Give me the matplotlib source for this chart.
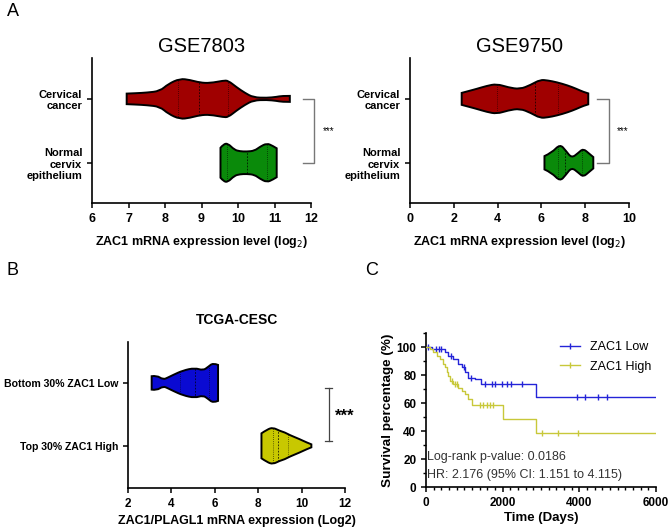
import numpy as np
import matplotlib
matplotlib.use('Agg')
import matplotlib.pyplot as plt
from matplotlib.path import Path
from matplotlib.patches import PathPatch
from matplotlib.lines import Line2D
from matplotlib.ticker import MultipleLocator

plt.rcParams['font.family'] = ['Liberation Sans', 'DejaVu Sans']

# ---- violin outlines: x value, half width (category units)
# GSE7803
gse7803_cancer_x = [6.95, 7.22, 7.5, 7.86, 8.09, 8.41, 8.68, 8.96, 9.23, 9.6, 9.73, 9.96, 10.19, 10.42, 10.79, 11.06, 11.2, 11.42]
gse7803_cancer_h = [5.3, 5.7, 6.3, 7.8, 15, 20.3, 19, 16.3, 15.8, 18.3, 18.3, 11.7, 6, 1.5, 1.0, 2.0, 3.0, 3.0]
gse7803_cancer_q = [8.35, 8.94, 9.72]
gse7803_normal_x = [9.52, 9.6, 9.72, 9.9, 10.05, 10.24, 10.45, 10.6, 10.79, 10.95, 11.06]
gse7803_normal_h = [15, 18.5, 19.5, 13, 11.5, 11.2, 12, 16, 19.5, 17, 14.5]
gse7803_normal_q = [9.71, 10.24, 10.79]
# GSE9750
gse9750_cancer_x = [2.36, 2.7, 3.04, 3.5, 3.96, 4.49, 5.02, 5.51, 5.94, 6.29, 6.7, 7.2, 7.61, 7.91, 8.14]
gse9750_cancer_h = [6, 8, 10, 13, 15, 11.5, 9.7, 14, 19.2, 18.5, 16.7, 13.5, 10, 7, 5.5]
gse9750_cancer_q = [3.96, 5.71, 6.77]
gse9750_normal_x = [6.14, 6.47, 6.85, 7.12, 7.38, 7.69, 7.91, 8.19, 8.37]
gse9750_normal_h = [6.7, 10, 18.7, 12, 4.7, 10, 14.2, 9, 5.7]
gse9750_normal_q = [6.74, 7.08, 7.84]
# TCGA-CESC
tcga_low_x = [3.09, 3.32, 3.62, 3.85, 4.08, 4.54, 5.08, 5.46, 5.69, 5.92, 6.15]
tcga_low_h = [6.7, 7.5, 3.3, 5.5, 8, 12.5, 15, 12.5, 16, 20, 18]
tcga_low_q = [4.39, 5.11, 5.74]
tcga_high_x = [8.15, 8.42, 8.68, 8.99, 9.22, 9.45, 9.91, 10.22, 10.45]
tcga_high_h = [12.5, 16.5, 18.3, 15, 13.5, 10.8, 6.7, 3.5, 1.5]
tcga_high_q = [8.68, 8.91, 9.39]

a_groups = ['Normal\ncervix\nepithelium', 'Cervical\ncancer']
b_groups = ['Top 30% ZAC1 High', 'Bottom 30% ZAC1 Low']

# ---- Kaplan-Meier steps (days, survival %)
low_times = [0, 148, 496, 582, 713, 843, 930, 1017, 1087, 1278, 1427, 2862]
low_surv = [100, 98.6, 96.2, 93.8, 91.4, 87.8, 85.4, 81.8, 78.2, 77.0, 73.4, 64.0]
low_censor = [60, 250, 330, 400, 640, 1000, 1180, 1539, 1713, 1800, 1974, 2105, 2209, 2496, 3931, 4148, 4496, 4730]
high_times = [0, 104, 191, 278, 365, 435, 496, 539, 582, 626, 713, 843, 930, 1017, 1104, 1191, 2017, 2862]
high_surv = [100, 98.6, 96.2, 93.8, 91.4, 87.8, 85.4, 81.8, 79.4, 75.8, 73.4, 71.0, 68.6, 66.2, 62.6, 58.5, 48.3, 38.6]
high_censor = [680, 760, 800, 1409, 1496, 1583, 1670, 1757, 3035, 3436, 3974]


def violin(ax, xs, hs, quarts, yc, color, px_per_unit):
    h = np.array(hs) / px_per_unit
    xs = np.array(xs)
    top = list(zip(xs, yc + h))
    bot = list(zip(xs[::-1], yc - h[::-1]))
    verts, codes = [], []

    def add_side(pts, first):
        verts.append(pts[0])
        codes.append(Path.MOVETO if first else Path.LINETO)
        n = len(pts)
        for i in range(1, n - 1):
            end = pts[i + 1] if i == n - 2 else ((pts[i][0] + pts[i + 1][0]) / 2, (pts[i][1] + pts[i + 1][1]) / 2)
            verts.extend([pts[i], end])
            codes.extend([Path.CURVE3, Path.CURVE3])

    add_side(top, True)
    add_side(bot, False)
    verts.append(top[0])
    codes.append(Path.CLOSEPOLY)
    patch = PathPatch(Path(verts, codes), facecolor=color, edgecolor='black', lw=1.4, zorder=3)
    ax.add_patch(patch)
    for i, q in enumerate(quarts):
        ls = (0, (2.5, 2)) if i == 1 else (0, (1, 2))
        ln, = ax.plot([q, q], [yc - 0.5, yc + 0.5], color='black', lw=0.5, ls=ls, zorder=4)
        ln.set_clip_path(patch)


def style(ax):
    for s in ['top', 'right']:
        ax.spines[s].set_visible(False)
    for s in ['left', 'bottom']:
        ax.spines[s].set_linewidth(1.2)
    ax.tick_params(width=1.1, length=3.5)
    for lab in ax.get_xticklabels() + ax.get_yticklabels():
        lab.set_fontweight('bold')


fig = plt.figure(figsize=(6.69, 5.31), dpi=100)

# ---- A left
ax1 = fig.add_axes([92 / 669, 1 - 203 / 531, 219 / 669, 145 / 531])
violin(ax1, gse7803_cancer_x, gse7803_cancer_h, gse7803_cancer_q, 1, '#a00000', 64)
violin(ax1, gse7803_normal_x, gse7803_normal_h, gse7803_normal_q, 0, '#0a8a0a', 64)
ax1.set_xlim(6, 12)
ax1.set_ylim(-0.63, 1.64)
ax1.set_xticks(range(6, 13))
ax1.set_yticks([0, 1])
ax1.set_yticklabels(a_groups, fontsize=8, ma='right')
ax1.tick_params(axis='x', labelsize=9)
ax1.set_xlabel('ZAC1 mRNA expression level (log$_2$)', fontsize=9, fontweight='bold', labelpad=7)
ax1.set_title('GSE7803', fontsize=14.5, pad=4)
style(ax1)
ax1.plot([11.78, 12.08, 12.08, 11.78], [1, 1, 0, 0], color='#777777', lw=1, clip_on=False)
ax1.text(12.47, 0.5, '***', fontsize=7, ha='center', va='center')

# ---- A right
ax2 = fig.add_axes([410 / 669, 1 - 203 / 531, 219 / 669, 145 / 531])
violin(ax2, gse9750_cancer_x, gse9750_cancer_h, gse9750_cancer_q, 1, '#a00000', 64)
violin(ax2, gse9750_normal_x, gse9750_normal_h, gse9750_normal_q, 0, '#0a8a0a', 64)
ax2.set_xlim(0, 10)
ax2.set_ylim(-0.63, 1.64)
ax2.set_xticks(range(0, 11, 2))
ax2.set_yticks([0, 1])
ax2.set_yticklabels(a_groups, fontsize=8, ma='right')
ax2.tick_params(axis='x', labelsize=9)
ax2.set_xlabel('ZAC1 mRNA expression level (log$_2$)', fontsize=9, fontweight='bold', labelpad=7)
ax2.set_title('GSE9750', fontsize=14.5, pad=4)
style(ax2)
ax2.plot([8.52, 9.1, 9.1, 8.52], [1, 1, 0, 0], color='#777777', lw=1, clip_on=False)
ax2.text(9.73, 0.5, '***', fontsize=7, ha='center', va='center')

# ---- B
ax3 = fig.add_axes([128 / 669, 1 - 488 / 531, 217 / 669, 146 / 531])
violin(ax3, tcga_low_x, tcga_low_h, tcga_low_q, 1, '#0a0ad2', 63)
violin(ax3, tcga_high_x, tcga_high_h, tcga_high_q, 0, '#c8c800', 63)
ax3.set_xlim(2, 12)
ax3.set_ylim(-0.67, 1.65)
ax3.set_xticks(range(2, 13, 2))
ax3.set_yticks([0, 1])
ax3.set_yticklabels(b_groups, fontsize=7.6)
ax3.tick_params(axis='x', labelsize=8.5)
ax3.set_xlabel('ZAC1/PLAGL1 mRNA expression (Log2)', fontsize=9, fontweight='bold', labelpad=4)
ax3.set_title('TCGA-CESC', fontsize=10, fontweight='bold', pad=13)
style(ax3)
ax3.plot([11.24, 11.24], [0.08, 0.92], color='#444444', lw=0.9, clip_on=False)
ax3.plot([11.09, 11.38], [0.92, 0.92], color='#444444', lw=0.9, clip_on=False)
ax3.plot([11.09, 11.38], [0.08, 0.08], color='#444444', lw=0.9, clip_on=False)
ax3.text(11.98, 0.47, '***', fontsize=12, fontweight='bold', ha='center', va='center')

# ---- C
ax4 = fig.add_axes([426 / 669, 1 - 487 / 531, 230 / 669, 154 / 531])
blue, yellow = '#2424d8', '#c8c83a'
for t, s, c, cen in [(low_times, low_surv, blue, low_censor), (high_times, high_surv, yellow, high_censor)]:
    tt = np.array(t + [6000])
    ss = np.array(s + [s[-1]])
    ax4.step(tt, ss, where='post', color=c, lw=1.0, zorder=3)
    idx = np.searchsorted(np.array(t), cen, side='right') - 1
    ax4.plot(cen, np.array(s)[idx], ls='none', marker='|', ms=4, mew=1.0, color=c, zorder=3)
ax4.set_xlim(0, 6000)
ax4.set_ylim(0, 110)
ax4.set_xticks([0, 2000, 4000, 6000])
ax4.set_yticks(range(0, 101, 20))
ax4.xaxis.set_minor_locator(MultipleLocator(200))
ax4.yaxis.set_minor_locator(MultipleLocator(10))
ax4.tick_params(which='minor', length=2.5, width=1)
ax4.tick_params(labelsize=8.5)
ax4.set_xlabel('Time (Days)', fontsize=9.5, fontweight='bold', labelpad=2)
ax4.set_ylabel('Survival percentage (%)', fontsize=9.7, fontweight='bold', labelpad=2)
style(ax4)
handles = [Line2D([], [], color=blue, lw=1, marker='|', ms=4), Line2D([], [], color=yellow, lw=1, marker='|', ms=4)]
ax4.legend(handles, ['ZAC1 Low', 'ZAC1 High'], loc='upper right', bbox_to_anchor=(1.03, 1.02),
           frameon=False, fontsize=9, handlelength=1.6, labelspacing=0.6)
ax4.text(30, 21.5, 'Log-rank p-value: 0.0186', fontsize=9, color='#333333', va='center')
ax4.text(30, 8.5, 'HR: 2.176 (95% CI: 1.151 to 4.115)', fontsize=9, color='#333333', va='center')

# panel letters
fig.text(7 / 669, 1 - 3 / 531, 'A', fontsize=13, va='top')
fig.text(7 / 669, 1 - 262 / 531, 'B', fontsize=13, va='top')
fig.text(365 / 669, 1 - 262 / 531, 'C', fontsize=13, va='top')

fig.savefig('out.png', dpi=100)
